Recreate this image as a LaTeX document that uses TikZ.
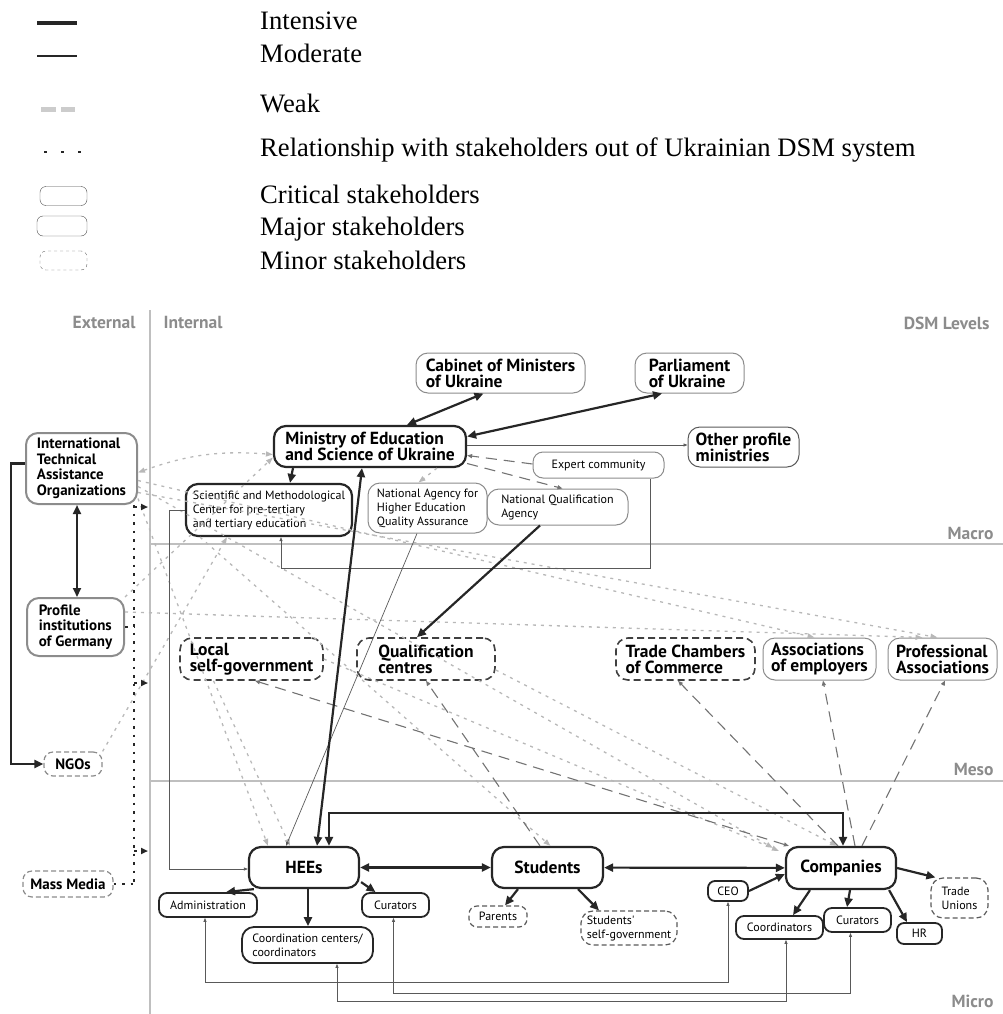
\documentclass[tikz,border=0pt]{standalone}
\usepackage{fontspec}
\setmainfont{Liberation Serif}
\newfontfamily\dsmfont{PT Sans}
\usetikzlibrary{arrows.meta}
\begin{document}
\begin{tikzpicture}[x=1pt,y=-1pt,
  box/.style={rounded corners=12pt,align=left,inner sep=0pt},
  critical/.style={box,draw=black!85,line width=2.2pt},
  major/.style={box,draw=black!45,line width=1pt},
  minor/.style={box,draw=black!75,line width=1.6pt,dash pattern=on 7pt off 4pt},
  faint/.style={box,draw=black!45,line width=1.2pt,dash pattern=on 5pt off 3pt},
  foreign/.style={box,draw=black!45,line width=2pt},
  big/.style={font=\dsmfont\bfseries\fontsize{17.5}{16.2}\selectfont},
  mid/.style={font=\dsmfont\bfseries\fontsize{17.5}{16.2}\selectfont},
  ext/.style={font=\dsmfont\bfseries\fontsize{15}{15.5}\selectfont},
  small/.style={font=\dsmfont\fontsize{12}{14}\selectfont},
  level/.style={font=\dsmfont\bfseries\fontsize{17.5}{17.5}\selectfont,text=black!45},
  levelline/.style={black!25,line width=1.2pt},
  intensive/.style={black!85,line width=2.2pt,>={Triangle[length=9pt,width=8pt]}},
  moderate/.style={black!65,line width=0.7pt,>={Triangle[length=4pt,width=3pt]}},
  weak/.style={black!28,line width=1.3pt,dash pattern=on 3pt off 5pt,>={Triangle[length=7pt,width=5pt]}},
  link/.style={black!55,line width=1.1pt,dash pattern=on 11pt off 7pt,>={Triangle[length=5pt,width=4pt]}},
  external/.style={black!85,line width=2pt,dash pattern=on 2.5pt off 6pt,>={Triangle[length=7pt,width=6pt]}},
  key/.style={anchor=base west,inner sep=0pt,font=\fontsize{26.6}{28}\selectfont}]
\useasboundingbox (0,0) rectangle (1003,1014);

\draw[black!85,line width=4pt] (37,23.5) -- (77,23.5);
\draw[black!85,line width=1.2pt] (37,56) -- (77,56);
\draw[black!20,line width=5pt,dash pattern=on 15pt off 5pt] (41,110) -- (75,110);
\draw[black!85,line width=2.5pt,dash pattern=on 2.5pt off 14.5pt] (44,152) -- (81,152);
\node[draw=black!70,rounded corners=6pt,minimum width=47pt,minimum height=19pt] (keycrit) at (63.5,196) {};
\node[draw=black!70,rounded corners=6pt,minimum width=50pt,minimum height=20pt] (keymajor) at (62,226) {};
\node[draw=black!60,dashed,rounded corners=6pt,minimum width=47pt,minimum height=19pt] (keyminor) at (63.5,260.5) {};
\node[key] (tintensive) at (260,30) {Intensive};
\node[key] (tmoderate) at (260,62.7) {Moderate};
\node[key] (tweak) at (260,112.7) {Weak};
\node[key] (trelation) at (260,156.7) {Relationship with stakeholders out of Ukrainian DSM system};
\node[key] (tcritical) at (260,203.3) {Critical stakeholders};
\node[key] (tmajor) at (260,235) {Major stakeholders};
\node[key] (tminor) at (260,269.3) {Minor stakeholders};

\draw[levelline] (150,310) -- (150,1014);
\draw[levelline] (150,544) -- (1003,544);
\draw[levelline] (150,781) -- (1003,781);
\node[level,anchor=east] (external) at (139,322) {External};
\node[level,anchor=west] (internal) at (160,322) {Internal};
\node[level,anchor=east] (levels) at (993,323) {DSM Levels};
\node[level,anchor=east] (macro) at (997,533) {Macro};
\node[level,anchor=east] (meso) at (997,769) {Meso};
\node[level,anchor=east] (micro) at (997,1001) {Micro};

\node[major,big,minimum width=169pt,minimum height=40pt] (cabinet) at (500.5,373) {Cabinet of Ministers\\of Ukraine};
\node[major,big,minimum width=109pt,minimum height=40pt] (parliament) at (689.5,373) {Parliament\\of Ukraine};
\node[major,big,draw=black!65,minimum width=111pt,minimum height=40pt] (otherprof) at (743.5,447) {Other profile\\ministries};
\node[critical,big,minimum width=192pt,minimum height=41pt] (mon) at (370,446.5) {Ministry of Education\\and Science of Ukraine};
\node[critical,small,minimum width=166pt,minimum height=52pt] (smc) at (269,510) {Scientific and Methodological\\Center for pre-tertiary\\and tertiary education};
\node[major,small,minimum width=119pt,minimum height=50pt] (naqa) at (427.5,508) {National Agency for\\Higher Education\\Quality Assurance};
\node[major,small,minimum width=141pt,minimum height=36pt] (nqa) at (557.5,507) {National Qualification\\Agency};
\node[major,small,rounded corners=10pt,minimum width=131pt,minimum height=26pt] (expert) at (598.5,465) {Expert community};

\node[foreign,ext,minimum width=111pt,minimum height=71pt] (itao) at (81.5,468.5) {International\\Technical\\Assistance\\Organizations};
\node[foreign,ext,minimum width=97pt,minimum height=58pt] (germany) at (75.5,627) {Profile\\institutions\\of Germany};
\node[faint,ext,rounded corners=9pt,minimum width=58pt,minimum height=24pt] (ngos) at (73,764) {NGOs};
\node[faint,ext,rounded corners=9pt,minimum width=90pt,minimum height=26pt] (media) at (68,884) {Mass Media};

\node[minor,mid,minimum width=143pt,minimum height=42pt] (lsg) at (251.5,659) {Local\\self-government};
\node[minor,mid,minimum width=138pt,minimum height=42pt] (qc) at (426,659) {Qualification\\centres};
\node[minor,mid,minimum width=139pt,minimum height=42pt] (tcc) at (685.5,659) {Trade Chambers\\of Commerce};
\node[major,mid,minimum width=113pt,minimum height=42pt] (assoc) at (819.5,659) {Associations\\of employers};
\node[major,mid,minimum width=109pt,minimum height=42pt] (prof) at (942.5,659) {Professional\\Associations};

\node[critical,big,minimum width=110pt,minimum height=41pt] (hees) at (304,867.5) {HEEs};
\node[critical,big,minimum width=111pt,minimum height=41pt] (students) at (547.5,867.5) {Students};
\node[critical,big,minimum width=110pt,minimum height=42pt] (companies) at (841,868) {Companies};
\node[critical,small,line width=1.8pt,rounded corners=8pt,minimum width=98pt,minimum height=24pt] (admin) at (208,905) {Administration};
\node[critical,small,line width=1.8pt,minimum width=131pt,minimum height=36pt] (coord) at (307.5,945) {Coordination centers/\\coordinators};
\node[critical,small,line width=1.8pt,rounded corners=8pt,minimum width=67pt,minimum height=24pt] (curhee) at (395.5,905) {Curators};
\node[faint,small,draw=black!65,rounded corners=8pt,minimum width=58pt,minimum height=21pt] (parents) at (498,916.5) {Parents};
\node[faint,small,draw=black!65,minimum width=96pt,minimum height=34pt] (selfgov) at (629,928) {Students'\\self-government};
\node[critical,small,line width=1.8pt,rounded corners=7pt,minimum width=40pt,minimum height=20pt] (ceo) at (728,891) {CEO};
\node[critical,small,line width=1.8pt,rounded corners=8pt,minimum width=87pt,minimum height=23pt] (coordco) at (779.5,927.5) {Coordinators};
\node[critical,small,line width=1.8pt,rounded corners=8pt,minimum width=67pt,minimum height=24pt] (curco) at (857.5,920) {Curators};
\node[critical,small,line width=1.8pt,rounded corners=7pt,minimum width=45pt,minimum height=21pt] (hr) at (919.5,933.5) {HR};
\node[faint,small,draw=black!65,minimum width=57pt,minimum height=40pt] (unions) at (959.5,898) {Trade\\Unions};

\draw[weak,<->] ([yshift=-4pt]itao.east) to[bend left=12] ([yshift=-8pt]mon.west);
\draw[weak,->] (germany.north east) -- ([yshift=-11pt]mon.west);
\draw[weak,->] ([yshift=-12pt]itao.east) -- ([xshift=-5pt]assoc.north);
\draw[weak,->] ([yshift=-24pt]itao.east) -- ([xshift=-5pt]prof.north);
\draw[weak,->] ([yshift=15pt]germany.east) -- ([xshift=-20pt]prof.north);
\draw[weak,->] ([yshift=-30pt]itao.east) -- ([xshift=-36pt]hees.north);
\draw[weak,->] ([yshift=-18pt]itao.east) -- ([xshift=-12pt,yshift=-2pt]companies.north west);
\draw[weak,->] ([xshift=-38pt]lsg.south) -- ([xshift=-14pt]hees.north);
\draw[weak,->] (ngos.north east) -- ([xshift=-42pt]smc.south);
\draw[weak,->] ([xshift=-69pt]smc.south) -- ([xshift=3pt]students.north);
\draw[weak,->] (lsg.east) -- ([xshift=-6pt,yshift=-5pt]companies.north west);
\draw[weak,->] ([yshift=-11pt]qc.east) -- ([xshift=-4pt]companies.north);
\draw[weak,->] ([xshift=67pt]mon.south) -- ([xshift=-9pt]naqa.north);

\draw[link,->] ([yshift=1pt]expert.west) -- ([yshift=-9pt]mon.east);
\draw[link,->] ([yshift=-17pt]mon.east) -- ([xshift=5pt]nqa.north);
\draw[link,->] ([xshift=-3pt]companies.north) -- ([xshift=-7.5pt]tcc.south);
\draw[link,->] ([xshift=14pt]companies.north) -- ([xshift=3.5pt]assoc.south);
\draw[link,->] ([xshift=21pt]companies.north) -- ([xshift=2.5pt]prof.south);
\draw[link,<->] ([xshift=4pt]companies.north west) -- ([xshift=3.5pt]lsg.south);
\draw[link,->] ([xshift=-7.5pt]students.north) -- (qc.south);

\draw[moderate,->] ([yshift=1.5pt]mon.east) -- ([yshift=2pt]otherprof.west);
\draw[moderate,->] ([xshift=51.5pt]expert.south) -- ++(0,90) -| ([xshift=12pt]smc.south);
\draw[moderate,->] (smc.west) -- ++(-16,0) |- ([yshift=-1.5pt]hees.west);
\draw[moderate,->] ([xshift=-10.5pt]naqa.south) -- ([xshift=-18pt]hees.north);
\draw[moderate,<->] (ceo.south) -- ++(0,80) -| ([xshift=-3pt]admin.south);
\draw[moderate,<->] ([xshift=-7pt]curco.south) -- ++(0,60) -| ([xshift=-2pt]curhee.south);
\draw[moderate,<->] ([xshift=6.5pt]coordco.south) -- ++(0,61) -| ([xshift=29.5pt]coord.south);

\draw[intensive,<->] ([xshift=37pt]mon.north) -- ([xshift=-17pt]cabinet.south);
\draw[intensive,<->] ([yshift=10pt]mon.east) -- ([xshift=-27.5pt]parliament.south);
\draw[intensive,->] ([xshift=-77pt]mon.south) -- ([xshift=21pt]smc.north);
\draw[intensive,<->] ([xshift=13pt]hees.north) -- ([xshift=-8pt]mon.south);
\draw[intensive,->] ([xshift=-17.5pt]nqa.south) -- ([xshift=-9pt]qc.north);
\draw[intensive,<->] ([xshift=-4.5pt]itao.south) -- ([xshift=1.5pt]germany.north);
\draw[intensive,->] ([yshift=5pt]itao.west) -- ++(-14,0) |- (ngos.west);
\draw[intensive,<->] ([xshift=25pt]hees.north) -- ++(0,-33) -| ([xshift=2pt]companies.north);
\draw[intensive,<->] (hees) -- (students);
\draw[intensive,<->] (students) -- (companies);
\draw[intensive,->] ([xshift=6pt]hees.south west) -- ([xshift=18pt]admin.north);
\draw[intensive,->] ([xshift=4pt]hees.south) -- ([xshift=0.5pt]coord.north);
\draw[intensive,->] ([xshift=1pt,yshift=7pt]hees.south east) -- ([xshift=-20pt]curhee.north);
\draw[intensive,->] ([xshift=-29.5pt]students.south) -- ([xshift=7pt]parents.north);
\draw[intensive,->] ([xshift=30.5pt]students.south) -- ([xshift=-30pt]selfgov.north);
\draw[intensive,->] (ceo.east) -- ([yshift=-6pt]companies.west);
\draw[intensive,->] ([xshift=-31pt]companies.south) -- ([xshift=13.5pt]coordco.north);
\draw[intensive,->] ([xshift=9pt]companies.south) -- ([xshift=-10.5pt]curco.north);
\draw[intensive,->] ([xshift=-8pt]companies.south east) -- ([xshift=-12.5pt]hr.north);
\draw[intensive,->] (companies.east) -- ([xshift=5pt]unions.north west);

\coordinate (bustop) at ([xshift=-4pt]itao.south east);
\coordinate (inmacro) at (148,507);
\coordinate (inmeso) at (148,683);
\coordinate (inmicro) at (148,851);
\draw[external] (bustop) -- (bustop |- media.east);
\draw[external] (germany.east) -- (germany.east -| bustop);
\draw[external] (media.east) -- (media.east -| bustop);
\draw[external,->] (inmacro -| bustop) -- (inmacro);
\draw[external,->] (inmeso -| bustop) -- (inmeso);
\draw[external,->] (inmicro -| bustop) -- (inmicro);
\end{tikzpicture}
\end{document}
